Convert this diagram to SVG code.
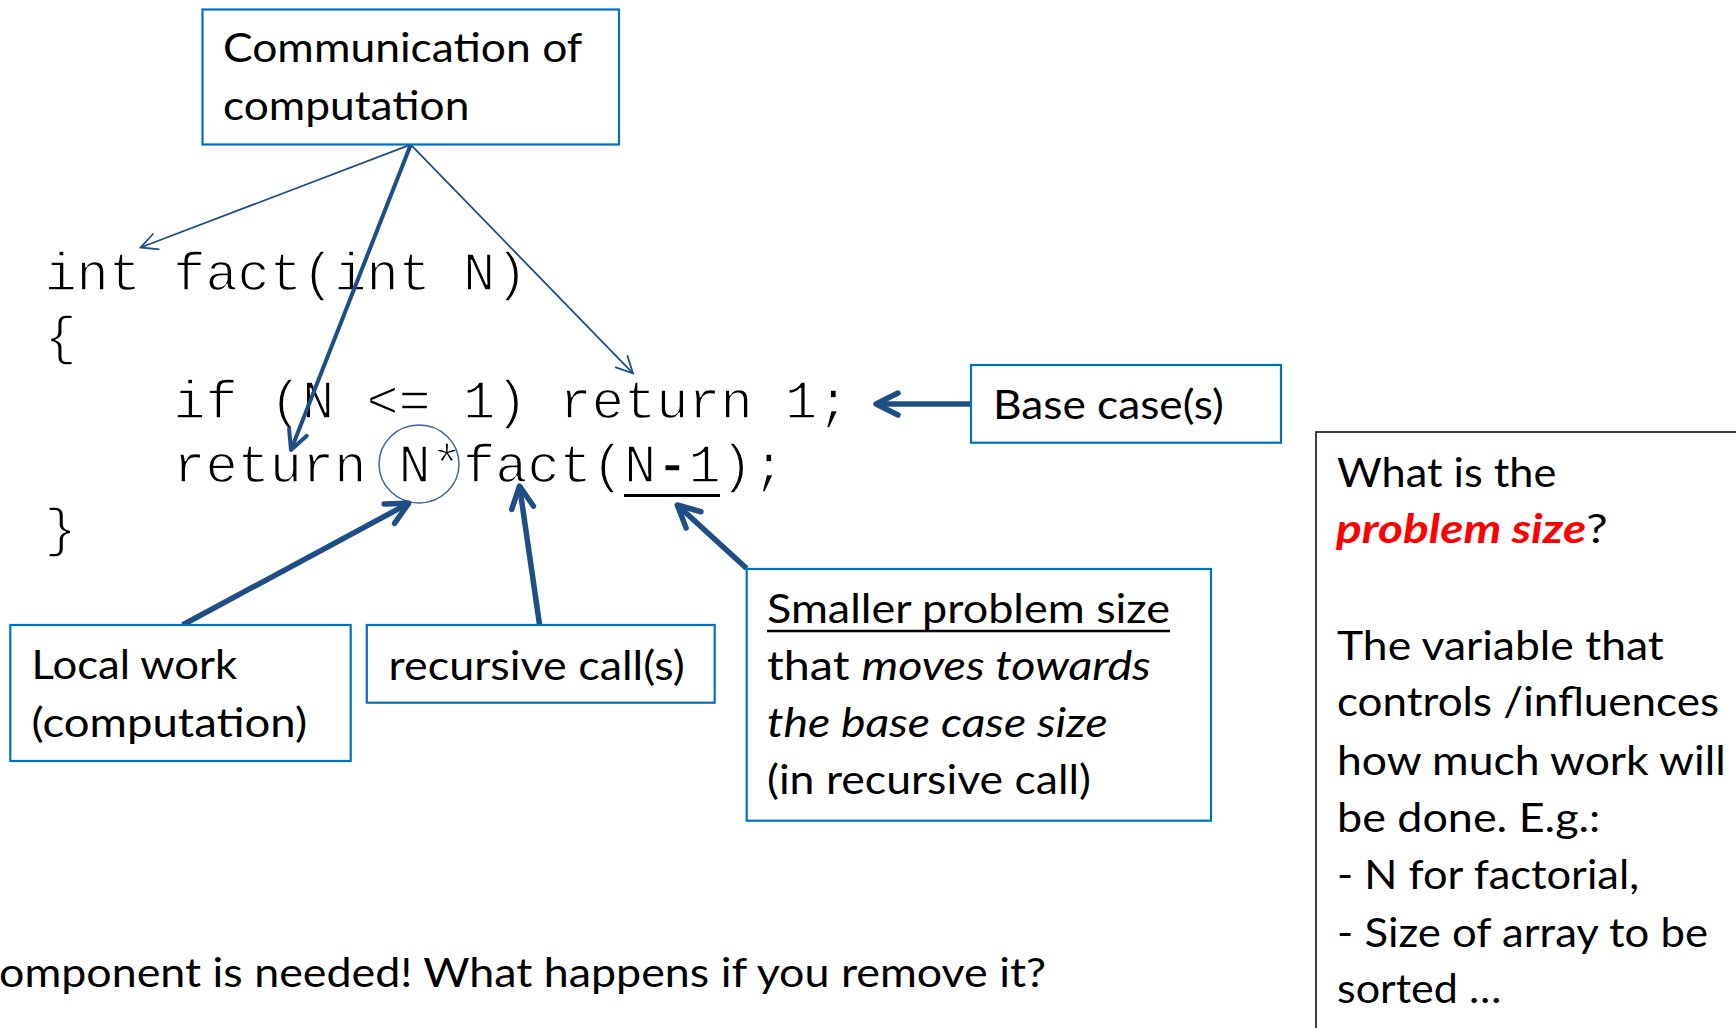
<svg xmlns="http://www.w3.org/2000/svg" width="1736" height="1028" viewBox="0 0 1736 1028">
<style>
.box{fill:#fff;stroke:#0070C0;stroke-width:2.2}
.lbl{font-family:Lato,'Liberation Sans',sans-serif;font-size:41.5px;fill:#000}
.code{font-family:'Liberation Mono','Courier New',monospace;font-size:53.66px;fill:#000;stroke:#fff;stroke-width:1.4;paint-order:fill stroke}
.side{font-family:Lato,'Liberation Sans',sans-serif;font-size:41px;fill:#000}
.thin{fill:none;stroke:#1F4E86;stroke-width:1.8}
.mid{fill:none;stroke:#1F4E86;stroke-width:4}
.thick{fill:none;stroke:#1F4E86;stroke-width:5.5}
.it{font-style:italic}
</style>
<defs>
<marker id="hThin" markerUnits="userSpaceOnUse" refX="0" refY="0" markerWidth="30" markerHeight="30" orient="auto" style="overflow:visible">
<path d="M-17,-8.5 L0,0 L-17,8.5" fill="none" stroke="#1F4E86" stroke-width="1.8" stroke-linejoin="miter"/>
</marker>
<marker id="hMid" markerUnits="userSpaceOnUse" refX="0" refY="0" markerWidth="30" markerHeight="30" orient="auto" style="overflow:visible">
<path d="M-19,-9.5 L0,0 L-19,9.5" fill="none" stroke="#1F4E86" stroke-width="4" stroke-linejoin="round" stroke-linecap="round"/>
</marker>
<marker id="hThick" markerUnits="userSpaceOnUse" refX="0" refY="0" markerWidth="40" markerHeight="40" orient="auto" style="overflow:visible">
<path d="M-22,-11 L0,0 L-22,11" fill="none" stroke="#1F4E86" stroke-width="5.5" stroke-linejoin="round" stroke-linecap="round"/>
</marker>
</defs>
<rect width="1736" height="1028" fill="#fff"/>

<g id="code">
<text class="code" x="44.4" y="290">int fact(int N)</text>
<text class="code" x="44.4" y="354">{</text>
<text class="code" x="173.2" y="418">if (N &lt;= 1) return 1;</text>
<text class="code" x="173.2" y="482">return N*fact(N<tspan font-weight="bold">-</tspan>1);</text>
<text class="code" x="44.4" y="546">}</text>
<line x1="624" y1="495.5" x2="720" y2="495.5" stroke="#000" stroke-width="3"/>
<ellipse cx="419" cy="464" rx="40" ry="39" fill="none" stroke="#41669E" stroke-width="1.5"/>
</g>

<g id="connectors">
<path class="thin" d="M410.7,144.7 L140.6,247.5" marker-end="url(#hThin)"/>
<path class="mid" d="M410.7,144.7 L291,450" marker-end="url(#hMid)"/>
<path class="thin" d="M410.7,144.7 L633,373.3" marker-end="url(#hThin)"/>
<path class="thick" d="M971,404 L876,404" marker-end="url(#hThick)"/>
<path class="thick" d="M182.5,625 L408.7,503.3" marker-end="url(#hThick)"/>
<path class="thick" d="M539.6,625 L519.5,486" marker-end="url(#hThick)"/>
<path class="thick" d="M746.7,568.5 L677.3,505" marker-end="url(#hThick)"/>
</g>

<g id="comm">
<rect class="box" x="202.5" y="9.5" width="416.5" height="135"/>
<text class="lbl" x="223" y="62.3" textLength="359.4" lengthAdjust="spacingAndGlyphs">Communication of</text>
<text class="lbl" x="223" y="120" textLength="246.4" lengthAdjust="spacingAndGlyphs">computation</text>
</g>

<g id="base">
<rect class="box" x="971" y="365" width="310" height="77.7"/>
<text class="lbl" x="993" y="419.3" textLength="230.7" lengthAdjust="spacingAndGlyphs">Base case(s)</text>
</g>

<g id="smaller">
<rect class="box" x="746.7" y="569" width="464.3" height="251.7"/>
<text class="lbl" x="767" y="623.3" textLength="403" lengthAdjust="spacingAndGlyphs">Smaller problem size</text>
<line x1="767" y1="631" x2="1170" y2="631" stroke="#000" stroke-width="2.5"/>
<text class="lbl" x="767" y="680" textLength="383.8" lengthAdjust="spacingAndGlyphs">that <tspan class="it">moves towards</tspan></text>
<text class="lbl it" x="767" y="737.3" textLength="340.6" lengthAdjust="spacingAndGlyphs">the base case size</text>
<text class="lbl" x="767" y="794.3" textLength="324" lengthAdjust="spacingAndGlyphs">(in recursive call)</text>
</g>

<g id="local">
<rect class="box" x="10.3" y="625" width="340.4" height="136"/>
<text class="lbl" x="31.6" y="679.3" textLength="205.5" lengthAdjust="spacingAndGlyphs">Local work</text>
<text class="lbl" x="31.6" y="736.7" textLength="275.5" lengthAdjust="spacingAndGlyphs">(computation)</text>
</g>

<g id="recursive">
<rect class="box" x="366.8" y="625" width="347.9" height="77.7"/>
<text class="lbl" x="388.6" y="680" textLength="296.2" lengthAdjust="spacingAndGlyphs">recursive call(s)</text>
</g>

<g id="problemsize">
<rect x="1316" y="432" width="500" height="700" fill="#fff" stroke="#111" stroke-width="1.6"/>
<text class="side" x="1337" y="487.3" textLength="219.3" lengthAdjust="spacingAndGlyphs">What is the</text>
<text class="side" x="1336" y="543" textLength="271.7" lengthAdjust="spacingAndGlyphs"><tspan fill="#FF0000" font-weight="bold" font-style="italic">problem size</tspan>?</text>
<text class="side" x="1337" y="659.5" textLength="326.7" lengthAdjust="spacingAndGlyphs">The variable that</text>
<text class="side" x="1337" y="716.4" textLength="382" lengthAdjust="spacingAndGlyphs">controls /influences</text>
<text class="side" x="1337" y="774.5" textLength="388.7" lengthAdjust="spacingAndGlyphs">how much work will</text>
<text class="side" x="1337" y="831.7" textLength="263.3" lengthAdjust="spacingAndGlyphs">be done. E.g.:</text>
<text class="side" x="1337" y="888.6" textLength="302" lengthAdjust="spacingAndGlyphs">- N for factorial,</text>
<text class="side" x="1337" y="946.7" textLength="371" lengthAdjust="spacingAndGlyphs">- Size of array to be</text>
<text class="side" x="1337" y="1002.7" textLength="164.3" lengthAdjust="spacingAndGlyphs">sorted …</text>
</g>

<g id="note">
<text class="lbl" x="-1" y="987" textLength="1047" lengthAdjust="spacingAndGlyphs">omponent is needed! What happens if you remove it?</text>
</g>
</svg>
